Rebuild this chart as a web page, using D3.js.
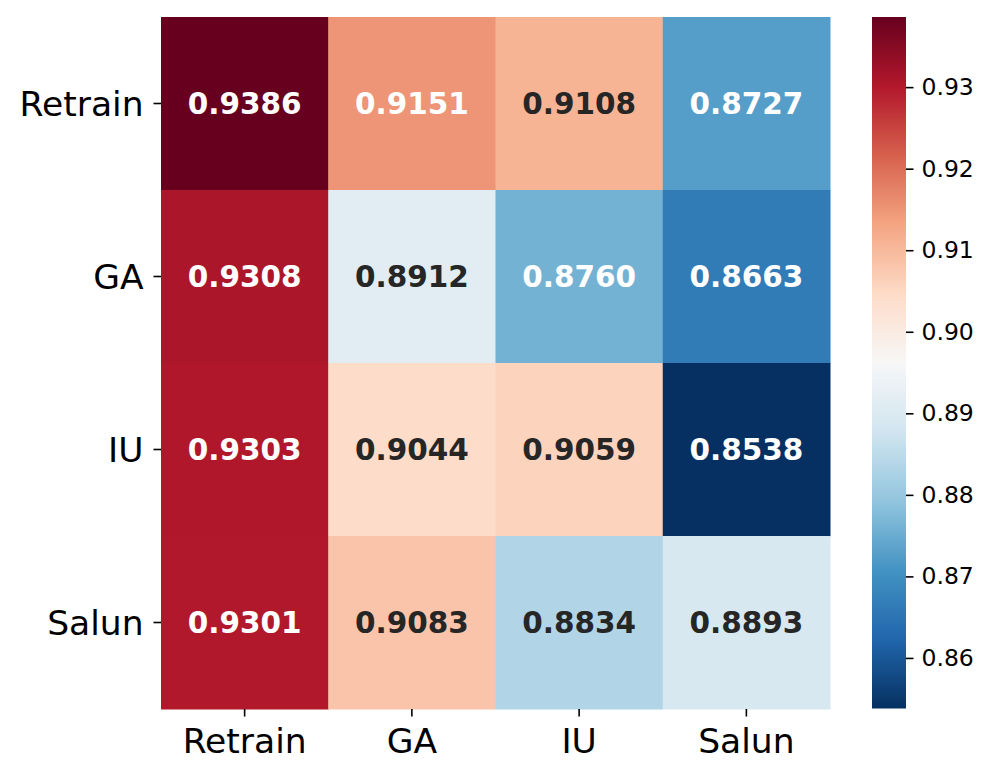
<!DOCTYPE html>
<html>
<head>
<meta charset="utf-8">
<script src="https://cdn.jsdelivr.net/npm/d3@7"></script>
<style>
  body { margin: 0; background: #fff; }
  svg text { font-family: "DejaVu Sans", sans-serif; }
</style>
</head>
<body>
<div id="chart"></div>
<script>
// row / column labels
const rowLabels = ["Retrain", "GA", "IU", "Salun"];
const colLabels = ["Retrain", "GA", "IU", "Salun"];

// one array per row
const retrainRow = [0.9386, 0.9151, 0.9108, 0.8727];
const gaRow = [0.9308, 0.8912, 0.8760, 0.8663];
const iuRow = [0.9303, 0.9044, 0.9059, 0.8538];
const salunRow = [0.9301, 0.9083, 0.8834, 0.8893];

const colorbarTicks = [0.86, 0.87, 0.88, 0.89, 0.90, 0.91, 0.92, 0.93];

// RdBu reversed (blue -> red), matplotlib style linear segments
const rdbuR = ["#053061", "#2166ac", "#4393c3", "#92c5de", "#d1e5f0", "#f7f7f7",
               "#fddbc7", "#f4a582", "#d6604d", "#b2182b", "#67001f"];

const matrix = [retrainRow, gaRow, iuRow, salunRow];

const width = 997, height = 780;
const heat = { left: 161, right: 830, top: 17, bottom: 709 };
const cbar = { left: 872, right: 906, top: 17, bottom: 708.5 };

const svg = d3.select("#chart").append("svg")
  .attr("width", width)
  .attr("height", height);

const allValues = matrix.flat();
const vmin = d3.min(allValues), vmax = d3.max(allValues);

const t = d3.scaleLinear().domain([vmin, vmax]).range([0, 1]);
const cmap = d3.scaleLinear()
  .domain(d3.range(rdbuR.length).map(i => i / (rdbuR.length - 1)))
  .range(rdbuR)
  .interpolate(d3.interpolateRgb);
const color = v => cmap(t(v));

const x = d3.scaleBand().domain(colLabels).range([heat.left, heat.right]);
const y = d3.scaleBand().domain(rowLabels).range([heat.top, heat.bottom]);

// relative luminance, like seaborn does for picking annotation colour
function luminance(c) {
  const rgb = d3.rgb(c);
  const lin = [rgb.r, rgb.g, rgb.b].map(v => {
    v = v / 255;
    return v <= 0.03928 ? v / 12.92 : Math.pow((v + 0.055) / 1.055, 2.4);
  });
  return 0.2126 * lin[0] + 0.7152 * lin[1] + 0.0722 * lin[2];
}

const cells = [];
matrix.forEach((row, i) => row.forEach((v, j) => {
  cells.push({ row: rowLabels[i], col: colLabels[j], value: v });
}));

const g = svg.append("g");
g.selectAll("rect")
  .data(cells)
  .join("rect")
  .attr("x", d => x(d.col))
  .attr("y", d => y(d.row))
  .attr("width", x.bandwidth() + 0.5)
  .attr("height", y.bandwidth() + 0.5)
  .attr("fill", d => color(d.value));

g.selectAll("text")
  .data(cells)
  .join("text")
  .attr("x", d => x(d.col) + x.bandwidth() / 2)
  .attr("y", d => y(d.row) + y.bandwidth() / 2)
  .attr("text-anchor", "middle")
  .attr("dominant-baseline", "central")
  .attr("font-size", 29.5)
  .attr("font-weight", "bold")
  .attr("fill", d => luminance(color(d.value)) > 0.43 ? "#262626" : "#ffffff")
  .text(d => d3.format(".4f")(d.value));

// axes
const xAxis = svg.append("g")
  .attr("transform", `translate(0,${heat.bottom})`)
  .call(d3.axisBottom(x).tickSize(7.5).tickPadding(12));
const yAxis = svg.append("g")
  .attr("transform", `translate(${heat.left},0)`)
  .call(d3.axisLeft(y).tickSize(7.5).tickPadding(10));

[xAxis, yAxis].forEach(ax => {
  ax.select(".domain").remove();
  ax.selectAll(".tick line").attr("stroke", "#000").attr("stroke-width", 1.6);
  ax.selectAll(".tick text")
    .attr("font-size", 34.5)
    .attr("fill", "#000")
    .style("font-family", "DejaVu Sans");
});
yAxis.selectAll(".tick text").attr("dy", "0.36em");

// colorbar
const cy = d3.scaleLinear().domain([vmin, vmax]).range([cbar.bottom, cbar.top]);
const defs = svg.append("defs");
const grad = defs.append("linearGradient")
  .attr("id", "cbar-grad")
  .attr("x1", 0).attr("y1", 1).attr("x2", 0).attr("y2", 0);
grad.selectAll("stop")
  .data(d3.range(0, 1.0001, 0.02))
  .join("stop")
  .attr("offset", d => d)
  .attr("stop-color", d => cmap(d));

svg.append("rect")
  .attr("x", cbar.left)
  .attr("y", cbar.top)
  .attr("width", cbar.right - cbar.left)
  .attr("height", cbar.bottom - cbar.top)
  .attr("fill", "url(#cbar-grad)");

const cAxis = svg.append("g")
  .attr("transform", `translate(${cbar.right},0)`)
  .call(d3.axisRight(cy).tickValues(colorbarTicks).tickFormat(d3.format(".2f"))
    .tickSize(7.5).tickPadding(8));
cAxis.select(".domain").remove();
cAxis.selectAll(".tick line").attr("stroke", "#000").attr("stroke-width", 1.6);
cAxis.selectAll(".tick text")
  .attr("font-size", 23.5)
  .attr("fill", "#000")
  .style("font-family", "DejaVu Sans");
</script>
</body>
</html>
